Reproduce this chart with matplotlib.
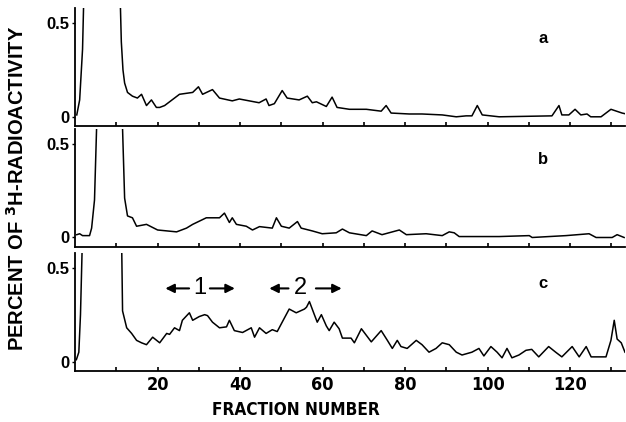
import numpy as np
import matplotlib as mpl
import matplotlib.pyplot as plt

# fraction number / percent of 3H-radioactivity
# (values of 1.0 are just the off-scale part of the big early peak)
a_x = [0.4, 1.1, 1.8, 2.5, 10.5, 11.2, 11.6, 12.0, 12.7, 13.9, 15.1, 16.1, 17.3, 18.5,
       19.7, 20.5, 21.7, 25.3, 28.5, 29.9, 30.9, 33.3, 35.0, 38.1, 39.8, 42.2, 44.6,
       46.3, 47.0, 48.3, 50.2, 51.4, 54.3, 56.3, 57.5, 58.5, 60.9, 62.3, 63.5, 66.5,
       70.6, 74.2, 75.4, 76.6, 81.0, 84.1, 89.0, 92.4, 94.8, 96.2, 97.5, 98.7, 102.8,
       115.6, 117.3, 118.0, 119.7, 121.2, 122.6, 124.1, 125.0, 127.5, 129.9, 132.6, 133.6]
a_y = [0.01, 0.09, 0.36, 1.0, 1.0, 0.4, 0.25, 0.18, 0.13, 0.11, 0.10, 0.12, 0.06, 0.09,
       0.05, 0.05, 0.06, 0.12, 0.13, 0.16, 0.12, 0.145, 0.10, 0.085, 0.095, 0.085, 0.075,
       0.095, 0.06, 0.07, 0.14, 0.10, 0.09, 0.11, 0.075, 0.08, 0.055, 0.105, 0.05, 0.04,
       0.04, 0.03, 0.06, 0.02, 0.015, 0.015, 0.01, 0.0, 0.005, 0.005, 0.06, 0.01, 0.0,
       0.005, 0.06, 0.01, 0.01, 0.04, 0.01, 0.015, 0.0, 0.0, 0.04, 0.02, 0.015]

b_x = [0.4, 1.1, 1.8, 3.0, 3.5, 4.0, 4.7, 5.2, 6.0, 11.0, 11.5, 12.0, 12.7, 13.9, 14.9,
       17.3, 20.0, 24.6, 27.0, 28.5, 31.8, 35.0, 36.2, 37.4, 38.1, 39.1, 41.5, 43.0,
       44.7, 47.8, 48.8, 50.0, 51.9, 53.9, 54.8, 57.5, 59.9, 63.3, 64.8, 66.5, 70.6,
       72.0, 74.4, 78.6, 80.3, 85.1, 89.0, 90.7, 91.9, 93.1, 102.8, 110.1, 110.8, 119.0,
       124.6, 126.3, 130.2, 131.4, 133.1]
b_y = [0.015, 0.02, 0.01, 0.01, 0.01, 0.05, 0.2, 0.58, 1.0, 1.0, 0.58, 0.21, 0.115, 0.105,
       0.06, 0.07, 0.04, 0.03, 0.05, 0.07, 0.105, 0.105, 0.13, 0.08, 0.105, 0.07, 0.06,
       0.04, 0.058, 0.05, 0.105, 0.06, 0.05, 0.085, 0.05, 0.035, 0.02, 0.025, 0.045, 0.025,
       0.01, 0.035, 0.015, 0.04, 0.015, 0.02, 0.01, 0.03, 0.025, 0.005, 0.005, 0.01, 0.0,
       0.01, 0.02, 0.0, 0.0, 0.015, 0.0]

c_x = [0.3, 0.9, 1.3, 1.7, 2.2, 10.8, 11.3, 11.5, 12.5, 13.7, 14.9, 16.1, 17.3, 18.8, 20.5,
       22.2, 22.9, 24.1, 25.3, 26.0, 27.7, 28.5, 30.1, 31.4, 32.1, 33.3, 35.0, 36.7, 37.4,
       38.6, 40.6, 42.7, 43.5, 44.7, 46.3, 47.8, 49.0, 50.2, 51.9, 53.6, 55.6, 56.1, 56.8,
       58.0, 58.7, 59.7, 60.9, 61.6, 62.8, 64.0, 64.8, 66.9, 67.7, 69.4, 70.6, 71.8, 74.2,
       75.7, 76.9, 78.1, 79.0, 80.5, 82.7, 84.1, 85.8, 87.5, 89.0, 90.7, 92.4, 93.8, 96.2,
       97.9, 99.1, 100.8, 102.3, 103.5, 104.7, 105.9, 107.6, 109.3, 110.7, 112.4, 114.8,
       116.5, 118.0, 120.5, 122.2, 123.9, 125.1, 127.1, 128.7, 129.9, 130.7, 131.4, 132.4,
       133.3]
c_y = [0.01, 0.05, 0.25, 0.6, 1.0, 1.0, 0.6, 0.27, 0.18, 0.15, 0.113, 0.10, 0.09, 0.13, 0.10,
       0.15, 0.145, 0.18, 0.165, 0.22, 0.26, 0.22, 0.24, 0.25, 0.245, 0.21, 0.18, 0.185, 0.22,
       0.165, 0.155, 0.18, 0.13, 0.18, 0.15, 0.17, 0.16, 0.21, 0.28, 0.26, 0.28, 0.29, 0.32,
       0.25, 0.21, 0.25, 0.19, 0.165, 0.21, 0.175, 0.125, 0.125, 0.10, 0.175, 0.14, 0.105,
       0.165, 0.113, 0.07, 0.113, 0.08, 0.07, 0.113, 0.09, 0.05, 0.07, 0.10, 0.09, 0.05,
       0.035, 0.05, 0.07, 0.03, 0.08, 0.05, 0.02, 0.07, 0.02, 0.035, 0.06, 0.065, 0.025,
       0.08, 0.05, 0.025, 0.08, 0.025, 0.08, 0.025, 0.025, 0.025, 0.113, 0.22, 0.12, 0.10,
       0.05]

panel_names = ['a', 'b', 'c']
x_ticks = [20, 40, 60, 80, 100, 120]
y_ticks = [0, 0.5]
y_ticklabels = ['0', '0.5']

mpl.rcParams['font.family'] = ['Liberation Sans', 'DejaVu Sans']
cond = dict(family='DejaVu Sans', fontstretch='condensed', fontweight='bold')

fig = plt.figure(figsize=(6.26, 4.22), dpi=100)
bottoms = [0.701, 0.415, 0.121]
axes = [fig.add_axes([0.12, b, 0.879, 0.28]) for b in bottoms]

for ax, xs, ys, name in zip(axes, [a_x, b_x, c_x], [a_y, b_y, c_y], panel_names):
    ax.plot(xs, ys, color='k', lw=1.1)
    ax.set_xlim(0, 133.4)
    ax.set_ylim(-0.05, 0.58)
    for s in ['top', 'right']:
        ax.spines[s].set_visible(False)
    ax.spines['left'].set_linewidth(1.3)
    ax.spines['bottom'].set_linewidth(1.3)
    ax.set_xticks(np.arange(10, 131, 10))
    ax.set_xticklabels([])
    ax.tick_params(axis='x', direction='in', length=3, width=1.2)
    ax.set_yticks(y_ticks)
    ax.set_yticklabels(y_ticklabels, fontsize=12, fontweight='bold')
    ax.tick_params(axis='y', direction='out', length=2, width=1.0, pad=2)
    ax.text(0.85, 0.74, name, transform=ax.transAxes, fontsize=12,
            fontweight='bold', ha='center', va='center')

# bottom panel gets the x tick labels
axc = axes[2]
axc.set_xticks(np.arange(10, 131, 10))
axc.set_xticklabels([str(v) if v in x_ticks else '' for v in range(10, 131, 10)],
                    fontsize=13, **cond)
axc.tick_params(axis='x', pad=4)

# arrows marking regions 1 and 2
yarr = 0.39
arr = dict(arrowstyle='-|>', color='k', lw=1.5, mutation_scale=13)
axc.text(30.2, yarr, '1', fontsize=17, ha='center', va='center')
axc.annotate('', xy=(21.2, yarr), xytext=(28.3, yarr), arrowprops=arr)
axc.annotate('', xy=(39.4, yarr), xytext=(32.0, yarr), arrowprops=arr)
axc.text(54.6, yarr, '2', fontsize=17, ha='center', va='center')
axc.annotate('', xy=(46.4, yarr), xytext=(52.4, yarr), arrowprops=arr)
axc.annotate('', xy=(65.3, yarr), xytext=(57.7, yarr), arrowprops=arr)

fig.text(296 / 626, 1 - 410 / 422, 'FRACTION NUMBER', fontsize=12.3,
         ha='center', va='center', **cond)
fig.text(17 / 626, 1 - 188 / 422, r'PERCENT OF $^{\mathbf{3}}$H-RADIOACTIVITY',
         rotation=90, fontsize=14.5, fontweight='bold', ha='center', va='center')

fig.savefig('out.png', dpi=100)
